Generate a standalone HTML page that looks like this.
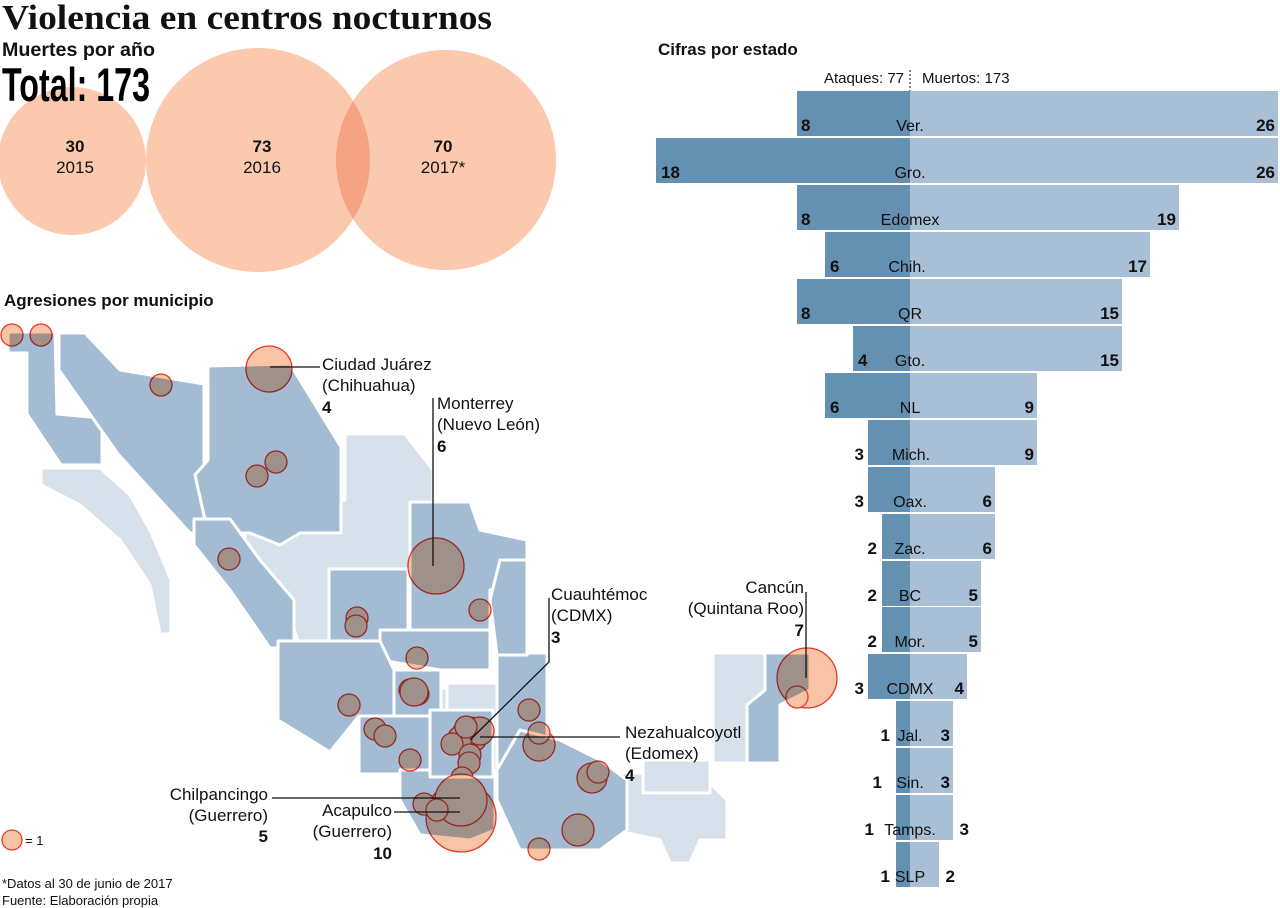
<!DOCTYPE html>
<html><head><meta charset="utf-8"><style>
html,body{margin:0;padding:0;background:#fff;}
svg{display:block;font-family:"Liberation Sans",sans-serif;}
.b{font-weight:bold;}
</style></head><body>
<svg width="1280" height="908" viewBox="0 0 1280 908" xmlns="http://www.w3.org/2000/svg">
<defs><clipPath id="c16"><circle cx="258" cy="160" r="112"/></clipPath></defs>
<text x="2" y="29" font-family="Liberation Serif,serif" font-weight="bold" font-size="35" fill="#111" textLength="490" lengthAdjust="spacingAndGlyphs">Violencia en centros nocturnos</text>
<text x="2" y="56" font-size="19" font-weight="bold" fill="#111" textLength="153" lengthAdjust="spacingAndGlyphs">Muertes por año</text>
<circle cx="72" cy="161" r="74" fill="#fbc9ad"/>
<circle cx="258" cy="160" r="112" fill="#fbc9ad"/>
<circle cx="446" cy="160" r="110" fill="#fbc9ad"/>
<circle cx="446" cy="160" r="110" fill="#f5a383" clip-path="url(#c16)"/>
<text x="2" y="101" font-size="47" font-weight="bold" fill="#000" textLength="148" lengthAdjust="spacingAndGlyphs">Total: 173</text>
<g text-anchor="middle" font-size="17" fill="#111">
<text x="75" y="152" class="b">30</text><text x="75" y="173">2015</text>
<text x="262" y="152" class="b">73</text><text x="262" y="173">2016</text>
<text x="443" y="152" class="b">70</text><text x="443" y="173">2017*</text>
</g>

<text x="4" y="306" font-size="17" font-weight="bold" fill="#111">Agresiones por municipio</text>
<g stroke="#fff" stroke-width="3" stroke-linejoin="round">
<g fill="#d6e1ec">
<polygon points="41,468 100,468 130,495 150,530 171,580 171,634 160,634 150,585 120,540 80,505 41,485"/>
<polygon points="345,434 405,434 433,470 433,569 400,569 360,640 300,648 285,600 245,540 245,519 300,519 345,500"/>
<polygon points="429,688 494,688 494,716 429,716"/>
<polygon points="447,683 520,683 520,773 470,773 447,740"/>
<polygon points="613,773 700,773 727,800 727,840 700,840 690,863 670,863 660,840 613,830"/>
<polygon points="643,760 710,760 710,793 643,793"/>
<polygon points="713,653 765,653 765,690 747,705 747,763 713,763"/>
<polygon points="290,660 330,650 330,690 300,700"/>
</g>
<g fill="#a3bcd4">
<polygon points="8,332 55,332 57,414 102,418 102,465 61,465 27,414 27,353 8,353"/>
<polygon points="59,333 85,333 120,370 204,384 204,533 190,533 118,454 59,370"/>
<polygon points="208,366 290,364 341,447 341,533 300,533 280,545 250,533 208,533 195,475 208,460"/>
<polygon points="194,519 230,519 260,560 294,600 294,648 270,648 230,590 194,545"/>
<polygon points="410,502 470,502 480,530 527,540 527,580 490,590 490,670 430,670 410,640"/>
<polygon points="329,569 408,569 408,640 380,655 329,655"/>
<polygon points="380,630 490,630 490,670 440,670 380,660"/>
<polygon points="278,641 380,641 394,670 394,716 359,716 330,752 278,720"/>
<polygon points="394,670 441,670 441,716 394,716"/>
<polygon points="359,716 445,716 445,774 359,774"/>
<polygon points="400,770 495,770 495,830 470,840 420,835 400,800"/>
<polygon points="430,710 493,710 493,777 430,777"/>
<polygon points="497,653 547,653 547,767 497,767"/>
<polygon points="500,560 527,560 527,655 497,655 490,600"/>
<polygon points="520,730 560,740 600,760 627,780 627,830 600,850 520,850 497,800 497,770"/>
<polygon points="765,653 810,653 810,690 780,705 780,763 747,763 747,705 765,690"/>
</g>
</g>
<g fill="#f9c3a5" stroke="#e8362a" stroke-width="1.3" style="mix-blend-mode:multiply">
<circle cx="12" cy="335" r="11"/><circle cx="41" cy="335" r="11"/>
<circle cx="161" cy="385" r="11"/><circle cx="269" cy="369" r="23"/>
<circle cx="257" cy="476" r="11"/><circle cx="276" cy="462" r="11"/>
<circle cx="229" cy="559" r="11"/><circle cx="436" cy="566" r="28"/>
<circle cx="480" cy="610" r="11"/><circle cx="357" cy="618" r="11"/><circle cx="356" cy="626" r="11"/>
<circle cx="417" cy="658" r="11"/><circle cx="410" cy="690" r="11"/><circle cx="418" cy="694" r="11"/><circle cx="414" cy="692" r="14"/>
<circle cx="349" cy="705" r="11"/><circle cx="375" cy="729" r="11"/><circle cx="385" cy="736" r="11"/>
<circle cx="410" cy="760" r="11"/><circle cx="529" cy="710" r="11"/><circle cx="539" cy="745" r="16"/><circle cx="539" cy="733" r="11"/>
<circle cx="592" cy="778" r="15"/><circle cx="598" cy="772" r="11"/><circle cx="578" cy="830" r="16"/><circle cx="539" cy="849" r="11"/>
<circle cx="470" cy="735" r="18"/><circle cx="480" cy="731" r="14"/><circle cx="460" cy="738" r="12"/><circle cx="452" cy="744" r="11"/>
<circle cx="466" cy="727" r="11"/><circle cx="470" cy="755" r="11"/><circle cx="469" cy="763" r="11"/><circle cx="462" cy="778" r="11"/>
<circle cx="461" cy="817" r="35"/><circle cx="461" cy="800" r="26"/><circle cx="424" cy="804" r="11"/><circle cx="437" cy="810" r="11"/>
<circle cx="807" cy="678" r="30"/><circle cx="797" cy="697" r="11"/>
<circle cx="12" cy="840" r="10"/>
</g>
<g stroke="#111" stroke-width="1.3" fill="none">
<polyline points="270,367 320,367"/>
<polyline points="433,398 433,566"/>
<polyline points="549,598 549,662 470,740"/>
<polyline points="806,592 806,678"/>
<polyline points="480,737 620,737"/>
<polyline points="272,798 460,798"/>
<polyline points="394,812 460,812"/>
</g>
<g font-size="17" fill="#111">
<text x="322" y="370">Ciudad Juárez</text><text x="322" y="391">(Chihuahua)</text><text x="322" y="413" class="b">4</text>
<text x="437" y="409">Monterrey</text><text x="437" y="430">(Nuevo León)</text><text x="437" y="452" class="b">6</text>
<text x="551" y="600">Cuauhtémoc</text><text x="551" y="621">(CDMX)</text><text x="551" y="643" class="b">3</text>
<text x="625" y="738">Nezahualcoyotl</text><text x="625" y="759">(Edomex)</text><text x="625" y="781" class="b">4</text>
<g text-anchor="end">
<text x="804" y="593">Cancún</text><text x="804" y="614">(Quintana Roo)</text><text x="804" y="636" class="b">7</text>
<text x="268" y="800">Chilpancingo</text><text x="268" y="821">(Guerrero)</text><text x="268" y="842" class="b">5</text>
<text x="392" y="816">Acapulco</text><text x="392" y="837">(Guerrero)</text><text x="392" y="859" class="b">10</text>
</g>
<text x="25" y="845" font-size="13">= 1</text>
<text x="2" y="888" font-size="13">*Datos al 30 de junio de 2017</text>
<text x="2" y="905" font-size="13">Fuente: Elaboración propia</text>
</g>

<text x="658" y="55" font-size="17" font-weight="bold" fill="#111">Cifras por estado</text>
<text x="904" y="83" font-size="15" text-anchor="end" fill="#111">Ataques: 77</text>
<text x="922" y="83" font-size="15" fill="#111">Muertos: 173</text>
<line x1="910" y1="70" x2="910" y2="92" stroke="#111" stroke-dasharray="2,2"/>
<g font-size="16" fill="#111">
<rect x="797" y="91" width="113" height="45" fill="#6490b2"/><rect x="910" y="91" width="368" height="45" fill="#a8bfd5"/>
<rect x="656" y="138" width="254" height="45" fill="#6490b2"/><rect x="910" y="138" width="368" height="45" fill="#a8bfd5"/>
<rect x="797" y="185" width="113" height="45" fill="#6490b2"/><rect x="910" y="185" width="269" height="45" fill="#a8bfd5"/>
<rect x="825" y="232" width="85" height="45" fill="#6490b2"/><rect x="910" y="232" width="240" height="45" fill="#a8bfd5"/>
<rect x="797" y="279" width="113" height="45" fill="#6490b2"/><rect x="910" y="279" width="212" height="45" fill="#a8bfd5"/>
<rect x="853" y="326" width="57" height="45" fill="#6490b2"/><rect x="910" y="326" width="212" height="45" fill="#a8bfd5"/>
<rect x="825" y="373" width="85" height="45" fill="#6490b2"/><rect x="910" y="373" width="127" height="45" fill="#a8bfd5"/>
<rect x="868" y="420" width="42" height="45" fill="#6490b2"/><rect x="910" y="420" width="127" height="45" fill="#a8bfd5"/>
<rect x="868" y="467" width="42" height="45" fill="#6490b2"/><rect x="910" y="467" width="85" height="45" fill="#a8bfd5"/>
<rect x="882" y="514" width="28" height="45" fill="#6490b2"/><rect x="910" y="514" width="85" height="45" fill="#a8bfd5"/>
<rect x="882" y="561" width="28" height="45" fill="#6490b2"/><rect x="910" y="561" width="71" height="45" fill="#a8bfd5"/>
<rect x="882" y="607" width="28" height="45" fill="#6490b2"/><rect x="910" y="607" width="71" height="45" fill="#a8bfd5"/>
<rect x="868" y="654" width="42" height="45" fill="#6490b2"/><rect x="910" y="654" width="57" height="45" fill="#a8bfd5"/>
<rect x="896" y="701" width="14" height="45" fill="#6490b2"/><rect x="910" y="701" width="43" height="45" fill="#a8bfd5"/>
<rect x="896" y="748" width="14" height="45" fill="#6490b2"/><rect x="910" y="748" width="43" height="45" fill="#a8bfd5"/>
<rect x="896" y="795" width="14" height="45" fill="#6490b2"/><rect x="910" y="795" width="43" height="45" fill="#a8bfd5"/>
<rect x="896" y="842" width="14" height="45" fill="#6490b2"/><rect x="910" y="842" width="29" height="45" fill="#a8bfd5"/>
<g text-anchor="middle">
<text x="910" y="131">Ver.</text><text x="910" y="178">Gro.</text><text x="910" y="225">Edomex</text>
<text x="907" y="272">Chih.</text><text x="910" y="319">QR</text><text x="910" y="366">Gto.</text>
<text x="910" y="413">NL</text><text x="911" y="460">Mich.</text><text x="910" y="507">Oax.</text>
<text x="910" y="554">Zac.</text><text x="910" y="601">BC</text><text x="910" y="647">Mor.</text>
<text x="910" y="694">CDMX</text><text x="910" y="741">Jal.</text><text x="910" y="788">Sin.</text>
<text x="910" y="835">Tamps.</text><text x="910" y="882">SLP</text>
</g>
<g class="b" font-size="17">
<text x="801" y="131">8</text><text x="661" y="178">18</text><text x="801" y="225">8</text>
<text x="830" y="272">6</text><text x="801" y="319">8</text><text x="858" y="366">4</text>
<text x="830" y="413">6</text>
<g text-anchor="end">
<text x="864" y="460">3</text><text x="864" y="507">3</text><text x="877" y="554">2</text>
<text x="877" y="601">2</text><text x="877" y="647">2</text><text x="864" y="694">3</text>
<text x="890" y="741">1</text><text x="882" y="788">1</text><text x="874" y="835">1</text><text x="890" y="882">1</text>
<text x="1275" y="131">26</text><text x="1275" y="178">26</text><text x="1176" y="225">19</text>
<text x="1147" y="272">17</text><text x="1119" y="319">15</text><text x="1119" y="366">15</text>
<text x="1034" y="413">9</text><text x="1034" y="460">9</text><text x="992" y="507">6</text>
<text x="992" y="554">6</text><text x="978" y="601">5</text><text x="978" y="647">5</text>
<text x="964" y="694">4</text><text x="950" y="741">3</text><text x="950" y="788">3</text>
<text x="969" y="835">3</text><text x="955" y="882">2</text>
</g>
</g>
</g>
</svg>
</body></html>
